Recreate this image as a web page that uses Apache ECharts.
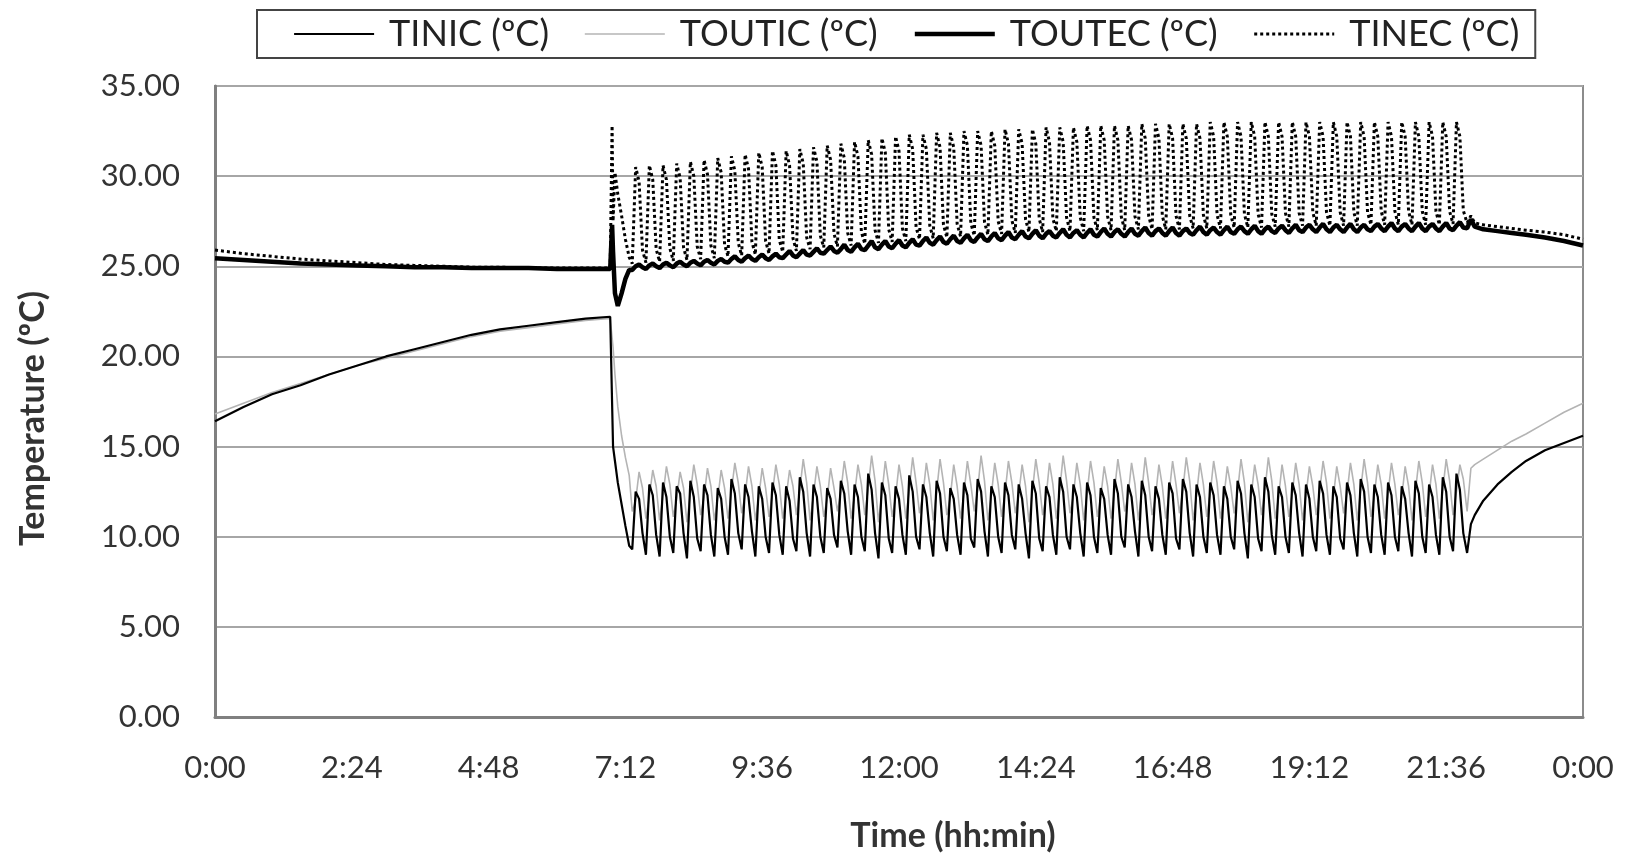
<!DOCTYPE html>
<html>
<head>
<meta charset="utf-8">
<title>Temperature</title>
<script src="https://cdn.jsdelivr.net/npm/echarts@6/dist/echarts.min.js"></script>
<style>
html, body { margin: 0; padding: 0; background: #fff; }
#chart { width: 1628px; height: 859px; }
</style>
</head>
<body>
<div id="chart"></div>
<script>
// series names (legend order)
var seriesNames = ['TINIC (ºC)', 'TOUTIC (ºC)', 'TOUTEC (ºC)', 'TINEC (ºC)'];

// morning stretch, minutes after 0:00
var morningMin = [0, 30, 60, 90, 120, 150, 180, 210, 240, 270, 300, 330, 360, 390, 416];
var tinicMorning = [16.4, 17.2, 17.9, 18.4, 19.0, 19.5, 20.0, 20.4, 20.8, 21.2, 21.5, 21.7, 21.9, 22.1, 22.2];
var touticMorning = [16.8, 17.4, 18.0, 18.5, 19.0, 19.5, 19.9, 20.3, 20.7, 21.1, 21.4, 21.6, 21.8, 22.0, 22.1];
var toutecMorning = [25.45, 25.35, 25.25, 25.15, 25.1, 25.05, 25.0, 24.95, 24.95, 24.9, 24.9, 24.9, 24.85, 24.85, 24.85];
var tinecMorning = [25.9, 25.7, 25.55, 25.4, 25.3, 25.2, 25.1, 25.05, 25.0, 24.95, 24.95, 24.9, 24.9, 24.9, 24.9];

// start-up around 7:00
var startMin = [418, 419, 421, 424, 428, 432, 436];
var tinicStart = [22.1, 15.0, 14.2, 13.0, 11.8, 10.6, 9.5];
var touticStart = [22.0, 20.5, 19.0, 17.2, 15.6, 14.4, 13.4];
var toutecStart = [27.3, 25.8, 23.5, 22.8, 23.5, 24.3, 24.8];
var tinecStart = [32.8, 27.5, 30.2, 29.0, 27.8, 26.5, 25.5];

// cycling part: one sample every 3.6 min from 7:19
var cycleStartMin = 439.2;
var cycleStepMin = 3.6;
var tinicCycles = [
  9.3,12.5,12.1,10.2, 9.0,12.9,12.3,10.1, 8.9,13.0,12.2,10.0, 9.1,12.8,12.4,10.2,
  8.8,13.1,12.2,9.9, 9.2,12.9,12.3,10.1, 8.9,12.7,12.1,10.0, 9.0,13.2,12.4,10.2,
  9.3,12.9,12.2,10.3, 8.9,12.8,12.1,10.0, 9.1,13.0,12.3,10.1, 9.0,12.8,12.0,9.9,
  9.2,13.3,12.5,10.2, 8.9,12.9,12.2,10.0, 9.1,12.7,12.1,10.1, 9.4,13.1,12.4,10.3,
  9.0,12.9,12.2,10.0, 9.2,13.5,12.6,10.2, 8.8,13.0,12.3,9.9, 9.1,12.8,12.1,10.1,
  9.0,13.4,12.5,10.0, 9.3,12.9,12.2,10.2, 8.9,13.1,12.4,10.0, 9.2,12.7,12.1,10.1,
  9.0,13.0,12.3,9.9, 9.4,13.2,12.5,10.3, 8.9,12.8,12.2,10.0, 9.1,13.0,12.3,10.1,
  9.3,12.9,12.1,10.2, 8.8,13.1,12.4,9.9, 9.2,12.8,12.2,10.1, 9.0,13.3,12.5,10.0,
  9.3,12.9,12.2,10.2, 8.9,13.0,12.3,10.0, 9.1,12.7,12.1,10.1, 9.0,13.2,12.4,10.0,
  9.4,12.9,12.2,10.3, 8.9,13.1,12.3,10.0, 9.2,12.8,12.1,10.1, 9.0,13.0,12.4,9.9,
  9.3,13.2,12.5,10.2, 8.9,12.9,12.2,10.0, 9.1,13.0,12.3,10.1, 9.0,12.8,12.1,10.0,
  9.3,13.1,12.4,10.2, 8.8,12.9,12.2,9.9, 9.2,13.3,12.5,10.1, 9.0,12.8,12.2,10.0,
  9.1,13.0,12.3,10.2, 8.9,12.9,12.1,10.0, 9.2,13.1,12.4,10.1, 9.0,12.8,12.2,9.9,
  9.3,13.0,12.3,10.2, 8.9,13.2,12.5,10.0, 9.1,12.9,12.2,10.1, 9.0,13.0,12.3,10.0,
  9.2,12.8,12.1,10.2, 8.9,13.1,12.4,10.0, 9.1,12.9,12.2,10.1, 9.0,13.3,12.5,10.0,
  9.2,13.5,12.6,10.2
];
var touticCycles = [
  11.4,12.0,13.6,12.7, 11.0,12.2,13.7,12.8, 10.9,12.3,13.9,12.9, 11.1,12.1,13.6,12.7,
  10.8,12.4,14.0,12.9, 11.2,12.2,13.8,12.8, 10.9,12.1,13.7,12.7, 11.0,12.5,14.1,13.0,
  11.3,12.3,13.9,12.8, 10.9,12.2,13.8,12.7, 11.1,12.4,14.0,12.9, 11.0,12.2,13.7,12.8,
  11.2,12.6,14.3,13.0, 10.9,12.3,13.9,12.8, 11.1,12.1,13.8,12.7, 11.4,12.5,14.2,13.0,
  11.0,12.3,14.0,12.9, 11.2,12.7,14.5,13.1, 10.8,12.4,14.2,12.9, 11.1,12.2,14.0,12.8,
  11.0,12.6,14.4,13.0, 11.3,12.3,14.1,12.9, 10.9,12.5,14.3,13.0, 11.2,12.2,14.0,12.8,
  11.0,12.4,14.2,12.9, 11.4,12.6,14.5,13.1, 10.9,12.3,14.1,12.9, 11.1,12.4,14.2,13.0,
  11.3,12.3,14.0,12.8, 10.8,12.5,14.3,13.0, 11.2,12.2,14.1,12.9, 11.0,12.6,14.5,13.1,
  11.3,12.3,14.1,12.9, 10.9,12.4,14.2,13.0, 11.1,12.2,13.9,12.8, 11.0,12.5,14.3,13.0,
  11.4,12.3,14.1,12.9, 10.9,12.5,14.4,13.0, 11.2,12.2,14.0,12.8, 11.0,12.4,14.2,12.9,
  11.3,12.6,14.4,13.1, 10.9,12.3,14.1,12.9, 11.1,12.4,14.2,13.0, 11.0,12.2,13.9,12.8,
  11.3,12.5,14.3,13.0, 10.8,12.3,14.0,12.9, 11.2,12.6,14.4,13.1, 11.0,12.2,14.0,12.8,
  11.1,12.4,14.1,12.9, 10.9,12.3,13.9,12.8, 11.2,12.5,14.2,13.0, 11.0,12.2,13.9,12.8,
  11.3,12.4,14.1,12.9, 10.9,12.6,14.3,13.0, 11.1,12.3,14.0,12.9, 11.0,12.4,14.1,12.9,
  11.2,12.2,13.9,12.8, 10.9,12.5,14.2,13.0, 11.1,12.3,14.0,12.9, 11.0,12.6,14.3,13.1,
  11.2,12.5,14.0,13.2
];
var toutecCycles = [
  24.8,25.0,25.1,24.95, 24.85,25.05,25.15,25.0, 24.9,25.1,25.2,25.05, 24.95,25.15,25.25,25.1,
  25.0,25.2,25.3,25.15, 25.05,25.25,25.35,25.2, 25.1,25.3,25.4,25.25, 25.2,25.4,25.55,25.35,
  25.25,25.45,25.6,25.4, 25.3,25.5,25.65,25.45, 25.35,25.55,25.7,25.5, 25.45,25.65,25.85,25.6,
  25.5,25.7,25.9,25.65, 25.6,25.8,26.0,25.75, 25.7,25.9,26.1,25.85, 25.75,25.95,26.2,25.9,
  25.8,26.05,26.25,25.95, 25.9,26.15,26.4,26.05, 25.95,26.2,26.4,26.1, 26.0,26.25,26.45,26.15,
  26.05,26.3,26.5,26.2, 26.15,26.4,26.6,26.3, 26.2,26.45,26.65,26.35, 26.25,26.5,26.7,26.4,
  26.3,26.55,26.75,26.45, 26.35,26.6,26.8,26.5, 26.4,26.65,26.85,26.55, 26.45,26.7,26.9,26.6,
  26.5,26.75,26.95,26.65, 26.55,26.8,27.0,26.7, 26.55,26.8,26.95,26.7, 26.6,26.85,27.05,26.75,
  26.6,26.85,27.0,26.75, 26.6,26.85,27.05,26.75, 26.65,26.9,27.1,26.8, 26.65,26.9,27.05,26.8,
  26.65,26.9,27.1,26.8, 26.7,26.95,27.15,26.85, 26.7,26.95,27.1,26.85, 26.7,26.95,27.15,26.85,
  26.7,26.95,27.1,26.85, 26.75,27.0,27.2,26.9, 26.75,27.0,27.15,26.9, 26.75,27.0,27.2,26.9,
  26.8,27.05,27.2,26.95, 26.8,27.05,27.25,26.95, 26.8,27.05,27.2,26.95, 26.85,27.1,27.25,27.0,
  26.85,27.1,27.3,27.0, 26.9,27.15,27.3,27.05, 26.9,27.15,27.35,27.05, 26.9,27.15,27.3,27.05,
  26.9,27.15,27.35,27.05, 26.9,27.15,27.3,27.05, 26.95,27.2,27.35,27.1, 26.95,27.2,27.4,27.1,
  26.95,27.2,27.35,27.1, 26.95,27.2,27.4,27.1, 26.95,27.2,27.35,27.1, 26.95,27.2,27.4,27.1,
  27.0,27.25,27.45,27.15
];
var tinecCycles = [
  25.15,30.5,29.7,25.9, 25.2,30.6,29.8,25.95, 25.25,30.6,29.8,26.0, 25.3,30.7,29.9,26.05,
  25.35,30.8,30.0,26.1, 25.4,30.9,30.1,26.15, 25.45,31.0,30.2,26.2, 25.55,31.1,30.3,26.3,
  25.6,31.2,30.4,26.35, 25.65,31.3,30.5,26.4, 25.7,31.4,30.6,26.45, 25.8,31.4,30.6,26.55,
  25.85,31.5,30.7,26.6, 25.95,31.6,30.8,26.7, 26.05,31.7,30.9,26.8, 26.1,31.8,31.0,26.85,
  26.15,31.9,31.1,26.9, 26.25,32.0,31.2,27.0, 26.3,32.1,31.3,27.05, 26.35,32.2,31.4,27.1,
  26.4,32.3,31.5,27.15, 26.5,32.3,31.5,27.25, 26.55,32.4,31.6,27.3, 26.6,32.4,31.6,27.35,
  26.65,32.5,31.7,27.4, 26.7,32.5,31.7,27.45, 26.75,32.5,31.7,27.5, 26.8,32.6,31.8,27.55,
  26.85,32.6,31.8,27.6, 26.9,32.6,31.8,27.65, 26.9,32.7,31.9,27.65, 26.95,32.7,31.9,27.7,
  26.95,32.7,31.9,27.7, 26.95,32.8,32.0,27.7, 27.0,32.8,32.0,27.75, 27.0,32.8,32.0,27.75,
  27.0,32.8,32.0,27.75, 27.05,32.9,32.1,27.8, 27.05,32.9,32.1,27.8, 27.05,32.9,32.1,27.8,
  27.05,32.9,32.1,27.8, 27.1,32.9,32.1,27.85, 27.1,33.0,32.2,27.85, 27.1,33.0,32.2,27.85,
  27.15,33.0,32.2,27.9, 27.15,33.0,32.2,27.9, 27.15,33.0,32.2,27.9, 27.2,33.0,32.2,27.95,
  27.2,33.0,32.2,27.95, 27.25,33.0,32.2,28.0, 27.25,33.0,32.2,28.0, 27.25,33.0,32.2,28.0,
  27.25,33.0,32.2,28.0, 27.25,33.0,32.2,28.0, 27.3,33.0,32.2,28.05, 27.3,33.0,32.2,28.05,
  27.3,33.0,32.2,28.05, 27.3,33.0,32.2,28.05, 27.3,33.0,32.2,28.05, 27.3,33.0,32.2,28.05,
  27.35,33.0,32.2,28.1
];

// evening stretch after 22:00
var eveningMin = [1318, 1322, 1326, 1335, 1350, 1365, 1380, 1400, 1420, 1440];
var tinicEvening = [9.1, 10.7, 11.2, 12.0, 12.9, 13.6, 14.2, 14.8, 15.2, 15.6];
var touticEvening = [11.4, 13.8, 14.0, 14.3, 14.8, 15.3, 15.7, 16.3, 16.9, 17.4];
var toutecEvening = [27.1, 27.6, 27.2, 27.05, 26.95, 26.85, 26.75, 26.6, 26.4, 26.15];
var tinecEvening = [27.4, 27.8, 27.4, 27.3, 27.2, 27.1, 27.0, 26.9, 26.75, 26.5];

// y-axis
var yMin = 0, yMax = 35, yStep = 5;
// x-axis, minutes: label every 2:24
var xMin = 0, xMax = 1440, xStep = 144;

function pairs(times, vals) {
    return times.map(function (t, i) { return [t, vals[i]]; });
}
function cyclePairs(vals) {
    return vals.map(function (v, i) { return [+(cycleStartMin + i * cycleStepMin).toFixed(1), v]; });
}
function build(m, s, c, e) {
    return pairs(morningMin, m).concat(pairs(startMin, s), cyclePairs(c), pairs(eveningMin, e));
}

function minToLabel(v) {
    var m = Math.round(v) % 1440;
    var h = Math.floor(m / 60), mm = m % 60;
    return h + ':' + (mm < 10 ? '0' + mm : mm);
}

// line look of each series (also used for its legend icon)
var lineLooks = [
    { color: '#000', width: 2.2 },
    { color: '#b4b4b4', width: 1.6 },
    { color: '#000', width: 4.5 },
    { color: '#000', width: 3, type: 'dotted' }
];

var font = 'Lato';
var chart = echarts.init(document.getElementById('chart'));
chart.setOption({
    animation: false,
    backgroundColor: '#fff',
    legend: {
        data: seriesNames.map(function (n, i) { return { name: n, lineStyle: lineLooks[i] }; }),
        left: 257,
        top: 10,
        padding: [6, 16, 6, 36],
        itemGap: 35,
        itemWidth: 80,
        itemHeight: 14,
        borderColor: '#444',
        borderWidth: 2,
        itemStyle: { opacity: 0 },
        textStyle: { fontFamily: font, fontSize: 36, color: '#222', padding: [0, 0, 0, 10] }
    },
    grid: {
        left: 215, right: 45, top: 86, bottom: 142,
        show: true, borderColor: '#8c8c8c', borderWidth: 2
    },
    xAxis: {
        type: 'value',
        min: xMin, max: xMax, interval: xStep,
        name: 'Time (hh:min)',
        nameLocation: 'middle',
        nameGap: 102,
        nameTextStyle: { fontFamily: font, fontSize: 34, fontWeight: 'bold', color: '#333', padding: [0, 0, 0, 108] },
        axisLine: { show: true, lineStyle: { color: '#808080', width: 3 } },
        axisTick: { show: false },
        splitLine: { show: false },
        axisLabel: { fontFamily: font, fontSize: 31, color: '#333', margin: 35, formatter: minToLabel }
    },
    yAxis: {
        type: 'value',
        min: yMin, max: yMax, interval: yStep,
        name: 'Temperature (ºC)',
        nameLocation: 'middle',
        nameGap: 165,
        nameTextStyle: { fontFamily: font, fontSize: 34, fontWeight: 'bold', color: '#333', padding: [0, 34, 0, 0] },
        axisLine: { show: true, lineStyle: { color: '#808080', width: 3 } },
        axisTick: { show: false },
        splitLine: { lineStyle: { color: '#a6a6a6', width: 2 } },
        axisLabel: { fontFamily: font, fontSize: 31, color: '#333', margin: 35, formatter: function (v) { return v.toFixed(2); } }
    },
    series: [
        {
            name: seriesNames[0], type: 'line', symbol: 'none', z: 3,
            lineStyle: lineLooks[0], itemStyle: { color: '#000' },
            data: build(tinicMorning, tinicStart, tinicCycles, tinicEvening)
        },
        {
            name: seriesNames[1], type: 'line', symbol: 'none', z: 2,
            lineStyle: lineLooks[1], itemStyle: { color: '#b4b4b4' },
            data: build(touticMorning, touticStart, touticCycles, touticEvening)
        },
        {
            name: seriesNames[2], type: 'line', symbol: 'none', z: 4,
            lineStyle: lineLooks[2], itemStyle: { color: '#000' },
            data: build(toutecMorning, toutecStart, toutecCycles, toutecEvening)
        },
        {
            name: seriesNames[3], type: 'line', symbol: 'none', z: 5,
            lineStyle: lineLooks[3], itemStyle: { color: '#000' },
            data: build(tinecMorning, tinecStart, tinecCycles, tinecEvening)
        }
    ]
});
</script>
</body>
</html>
